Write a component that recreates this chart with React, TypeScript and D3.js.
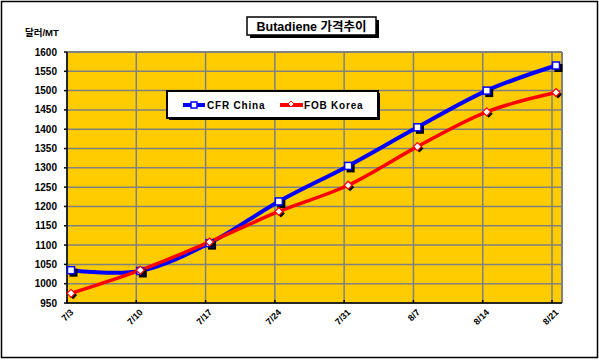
import React from "react";
import * as d3 from "d3";

const categories = ["7/3", "7/10", "7/17", "7/24", "7/31", "8/7", "8/14", "8/21"];
const cfrChina = [1035, 1033, 1105, 1213, 1305, 1405, 1500, 1565];
const fobKorea = [975, 1035, 1108, 1187, 1255, 1355, 1445, 1495];
const yTicks = [950, 1000, 1050, 1100, 1150, 1200, 1250, 1300, 1350, 1400, 1450, 1500, 1550, 1600];
const seriesNames = ["CFR China", "FOB Korea"];
const title = "Butadiene 가격추이";
const unitLabel = "달러/MT";

const W = 599, H = 361;
const plot = { left: 67, right: 562, top: 52, bottom: 303 };

export default function App() {
  const x = d3.scalePoint<string>().domain(categories).range([67, 552]);
  const y = d3.scaleLinear().domain([950, 1600]).range([plot.bottom, plot.top]);
  const off = 4;
  const line = d3
    .line<number>()
    .x((_, i) => (x(categories[i]) as number) + off)
    .y((d) => y(d))
    .curve(d3.curveCardinal.tension(0));
  const font = "'Liberation Sans', Arial, 'Noto Sans CJK KR', sans-serif";
  const sq = 7;
  const diamond = (cx: number, cy: number, r: number) =>
    `M${cx},${cy - r}L${cx + r},${cy}L${cx},${cy + r}L${cx - r},${cy}Z`;

  return (
    <svg width={W} height={H} style={{ position: "absolute", left: 0, top: 0 }} fontFamily={font}>
      <rect x={0} y={0} width={W} height={H} fill="white" />
      <rect x={1.5} y={1.5} width={596} height={356} fill="white" stroke="black" strokeWidth={1.5} />
      {/* plot area */}
      <rect x={plot.left} y={plot.top} width={plot.right - plot.left} height={plot.bottom - plot.top} fill="#FFCC00" />
      {yTicks.map((t) => (
        <line key={"h" + t} x1={plot.left} x2={plot.right} y1={y(t)} y2={y(t)} stroke="#808080" strokeWidth={1.5} />
      ))}
      {categories.map((c) => (
        <line key={"v" + c} x1={x(c)} x2={x(c)} y1={plot.top} y2={plot.bottom} stroke="#808080" strokeWidth={1.5} />
      ))}
      <line x1={plot.right} x2={plot.right} y1={plot.top} y2={plot.bottom} stroke="#808080" strokeWidth={2} />
      <line x1={plot.left} x2={plot.right} y1={plot.top} y2={plot.top} stroke="#808080" strokeWidth={2} />
      {/* axes */}
      <line x1={plot.left} x2={plot.left} y1={plot.top} y2={plot.bottom + 1} stroke="black" strokeWidth={1.5} />
      <line x1={plot.left} x2={plot.right} y1={plot.bottom} y2={plot.bottom} stroke="black" strokeWidth={1.5} />
      {yTicks.map((t) => (
        <g key={"yt" + t}>
          <line x1={plot.left - 3} x2={plot.left} y1={y(t)} y2={y(t)} stroke="black" strokeWidth={1.5} />
          <text x={57} y={y(t)} dy="0.35em" textAnchor="end" fontSize={10} fontWeight="bold">
            {t}
          </text>
        </g>
      ))}
      {categories.map((c) => (
        <g key={"xt" + c}>
          <line x1={x(c)} x2={x(c)} y1={plot.bottom} y2={plot.bottom - 3} stroke="black" strokeWidth={1.5} />
          <text
            transform={`translate(${(x(c) as number) + 7},${plot.bottom + 10}) rotate(-45)`}
            textAnchor="end"
            fontSize={9}
            fontWeight="bold"
          >
            {c}
          </text>
        </g>
      ))}
      {/* lines */}
      <path d={line(cfrChina) || ""} fill="none" stroke="#0000FF" strokeWidth={4} />
      <path d={line(fobKorea) || ""} fill="none" stroke="#FF0000" strokeWidth={3.5} />
      {cfrChina.map((v, i) => {
        const cx = (x(categories[i]) as number) + off;
        const cy = y(v);
        return (
          <g key={"m1" + i}>
            <rect x={cx - sq / 2 + 2} y={cy - sq / 2 + 2} width={sq + 1} height={sq + 1} fill="black" />
            <rect x={cx - sq / 2} y={cy - sq / 2} width={sq} height={sq} fill="white" stroke="#0000FF" strokeWidth={1.5} />
          </g>
        );
      })}
      {fobKorea.map((v, i) => {
        const cx = (x(categories[i]) as number) + off;
        const cy = y(v);
        return (
          <g key={"m2" + i}>
            <path d={diamond(cx + 2, cy + 2, 4)} fill="black" />
            <path d={diamond(cx, cy, 4)} fill="white" stroke="#FF0000" strokeWidth={1.2} />
          </g>
        );
      })}
      {/* legend */}
      <rect x={169} y={93} width={211} height={27} fill="black" />
      <rect x={167} y={91} width={211} height={27} fill="white" stroke="black" strokeWidth={2} />
      <line x1={183} x2={205} y1={105} y2={105} stroke="#0000FF" strokeWidth={4} />
      <rect x={191} y={102} width={6} height={6} fill="white" stroke="#0000FF" strokeWidth={1.5} />
      <text x={207} y={105} dy="0.35em" fontSize={10} fontWeight="bold" letterSpacing={0.8}>
        {seriesNames[0]}
      </text>
      <line x1={280} x2={303} y1={105} y2={105} stroke="#FF0000" strokeWidth={4} />
      <path d={diamond(291, 104, 3)} fill="white" stroke="#FF0000" strokeWidth={1} />
      <text x={304} y={105} dy="0.35em" fontSize={10} fontWeight="bold" letterSpacing={0.8}>
        {seriesNames[1]}
      </text>
      {/* title */}
      <rect x={250} y={20} width={129} height={18} fill="black" />
      <rect x={247} y={17} width={129} height={18} fill="white" stroke="black" strokeWidth={1.5} />
      <text x={311.5} y={26.5} dy="0.35em" textAnchor="middle" fontSize={12.5} fontWeight="bold">
        {title}
      </text>
      <text x={25} y={33} dy="0.35em" fontSize={9.5} fontWeight="bold">
        {unitLabel}
      </text>
    </svg>
  );
}
